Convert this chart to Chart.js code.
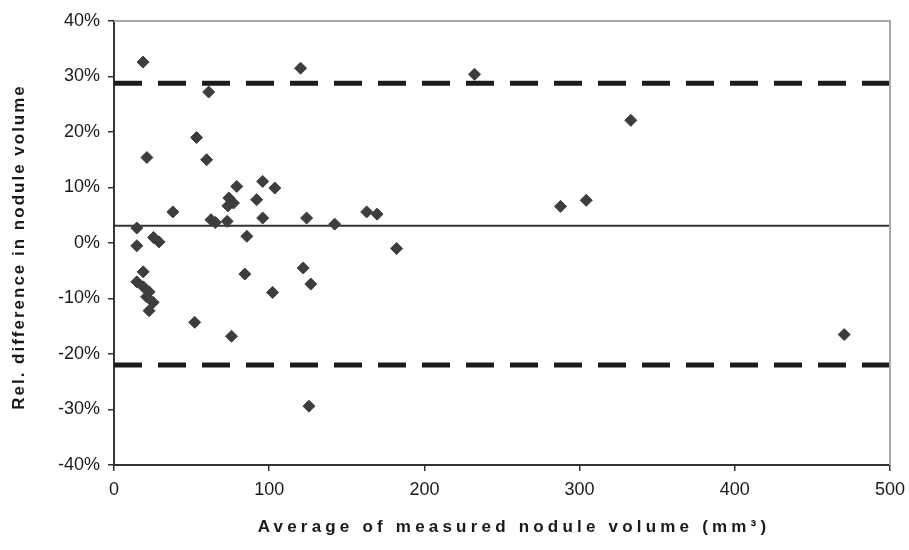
<!DOCTYPE html>
<html>
<head>
<meta charset="utf-8">
<title>Relative difference in nodule volume</title>
<script src="https://cdn.jsdelivr.net/npm/chart.js@4.4.0/dist/chart.umd.min.js"></script>
<style>
  html, body { margin: 0; padding: 0; background: #ffffff; }
  #wrap { width: 909px; height: 550px; position: relative; }
</style>
</head>
<body>
<div id="wrap"><canvas id="blandAltman"></canvas></div>
<script>
// Average of the two volume measurements (mm3), one entry per nodule
const avgVolume = [
  18.7, 120.2, 232.3, 61.0, 333.0, 53.2, 21.2, 59.7, 95.8, 79.1,
  103.6, 74.0, 91.9, 304.3, 77.0, 73.4, 287.7, 37.9, 162.8, 169.5,
  95.8, 124.1, 62.5, 65.3, 72.9, 142.2, 14.7, 85.6, 25.5, 29.0,
  14.7, 182.1, 121.9, 18.8, 84.3, 14.7, 126.8, 18.9, 22.6, 102.2,
  21.0, 25.2, 22.6, 52.0, 470.5, 75.7, 125.6
];

// Relative difference between the measurements (%), same order as above
const relDiff = [
  32.6, 31.5, 30.4, 27.2, 22.1, 19.0, 15.4, 15.0, 11.1, 10.2,
  9.9, 8.1, 7.8, 7.7, 7.2, 6.7, 6.6, 5.6, 5.6, 5.2,
  4.5, 4.5, 4.2, 3.7, 3.9, 3.4, 2.7, 1.2, 1.0, 0.2,
  -0.5, -1.0, -4.5, -5.2, -5.6, -7.0, -7.4, -7.9, -8.8, -8.9,
  -9.7, -10.7, -12.2, -14.3, -16.5, -16.8, -29.4
];

// Mean difference and limits of agreement (%)
const meanDiff = 3.1;
const upperLimit = 28.8;
const lowerLimit = -22.0;

// Axis ranges
const xRange = [0, 500];
const yRange = [-40, 40];

const yTitle = 'Rel. difference in nodule volume';
const xTitle = 'Average of measured nodule volume (mm\u00B3)';

const points = avgVolume.map((v, i) => ({ x: v, y: relDiff[i] }));
const hLine = (val) => xRange.map(x => ({ x: x, y: val }));

// Gray frame on top/right plus the spaced axis titles
const framePlugin = {
  id: 'frameAndTitles',
  afterDraw(chart) {
    const { ctx, chartArea } = chart;
    ctx.save();
    ctx.strokeStyle = '#a8a8a8';
    ctx.lineWidth = 2;
    ctx.beginPath();
    ctx.moveTo(chartArea.left, chartArea.top);
    ctx.lineTo(chartArea.right, chartArea.top);
    ctx.lineTo(chartArea.right, chartArea.bottom);
    ctx.stroke();

    ctx.fillStyle = '#1a1a1a';
    ctx.textAlign = 'center';
    ctx.textBaseline = 'middle';

    // y title, rotated
    ctx.save();
    ctx.font = 'bold 17px "Liberation Sans", Arial, sans-serif';
    ctx.letterSpacing = '2px';
    ctx.translate(19, (chartArea.top + chartArea.bottom) / 2 + 4);
    ctx.rotate(-Math.PI / 2);
    ctx.fillText(yTitle, 0, 0);
    ctx.restore();

    // x title
    ctx.save();
    ctx.font = 'bold 17px "Liberation Sans", Arial, sans-serif';
    ctx.letterSpacing = '4.2px';
    ctx.fillText(xTitle, (chartArea.left + chartArea.right) / 2 + 12, chartArea.bottom + 62);
    ctx.restore();

    ctx.restore();
  }
};

const tickFont = { family: '"Liberation Sans", Arial, sans-serif', size: 18 };

new Chart(document.getElementById('blandAltman'), {
  type: 'scatter',
  data: {
    datasets: [
      {
        label: 'Nodules',
        data: points,
        order: 0,
        pointStyle: 'rectRot',
        pointRadius: 6,
        pointBackgroundColor: '#3d3d3d',
        pointBorderColor: '#3d3d3d',
        pointBorderWidth: 1
      },
      {
        type: 'line',
        label: 'Upper limit',
        data: hLine(upperLimit),
        order: 1,
        borderColor: '#1c1c1c',
        borderWidth: 5,
        borderDash: [28, 16],
        pointRadius: 0
      },
      {
        type: 'line',
        label: 'Mean',
        data: hLine(meanDiff),
        order: 1,
        borderColor: '#333333',
        borderWidth: 2,
        pointRadius: 0
      },
      {
        type: 'line',
        label: 'Lower limit',
        data: hLine(lowerLimit),
        order: 1,
        borderColor: '#1c1c1c',
        borderWidth: 5,
        borderDash: [28, 16],
        pointRadius: 0
      }
    ]
  },
  options: {
    responsive: true,
    maintainAspectRatio: false,
    animation: false,
    layout: { padding: { top: 21, right: 19, left: 0, bottom: 0 } },
    scales: {
      x: {
        type: 'linear',
        min: xRange[0],
        max: xRange[1],
        ticks: { stepSize: 100, color: '#1a1a1a', font: tickFont, padding: 8, maxRotation: 0 },
        grid: { drawOnChartArea: false, color: '#333', lineWidth: 1.5, tickLength: 6 },
        border: { color: '#333', width: 2 },
        afterFit(scale) {
          scale.height = 85;
          // let the last tick label overhang into the right margin
          scale.paddingRight = 0;
          scale.paddingLeft = 0;
        }
      },
      y: {
        min: yRange[0],
        max: yRange[1],
        ticks: { stepSize: 10, color: '#1a1a1a', font: tickFont, padding: 8, callback: v => v + '%' },
        grid: { drawOnChartArea: false, color: '#333', lineWidth: 1.5, tickLength: 6 },
        border: { color: '#333', width: 2 },
        afterFit(scale) { scale.width = 114; }
      }
    },
    plugins: {
      legend: { display: false },
      tooltip: { enabled: false }
    }
  },
  plugins: [framePlugin]
});
</script>
</body>
</html>
